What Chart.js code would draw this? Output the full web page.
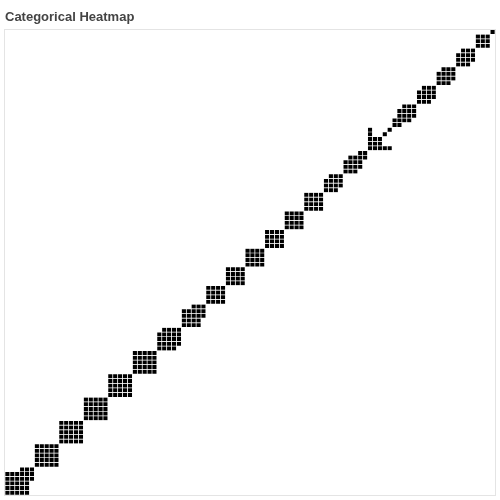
<!DOCTYPE html>
<html><head><meta charset="utf-8">
<script src="https://cdn.jsdelivr.net/npm/chart.js@4.4.0/dist/chart.umd.min.js"></script>
<style>html,body{margin:0;padding:0;background:#fff}#wrap{width:500px;height:500px}</style>
</head><body><div id="wrap"><canvas id="c"></canvas></div>
<script>
// 100 categories (no tick labels are shown in the reference)
const categories = Array.from({length: 100}, (_, i) => 'C' + i);

// For every row (bottom to top), the filled column spans [from, to]
const rowSpans = [
  [[0,4]], [[0,4]], [[0,4]], [[0,5]], [[0,5]], [[3,5]],
  [[6,10]], [[6,10]], [[6,10]], [[6,10]], [[6,10]],
  [[11,15]], [[11,15]], [[11,15]], [[11,15]], [[11,15]],
  [[16,20]], [[16,20]], [[16,20]], [[16,20]], [[16,20]],
  [[21,25]], [[21,25]], [[21,25]], [[21,25]], [[21,25]],
  [[26,30]], [[26,30]], [[26,30]], [[26,30]], [[26,30]],
  [[31,34]], [[31,35]], [[31,35]], [[31,35]], [[32,35]],
  [[36,39]], [[36,39]], [[36,40]], [[36,40]], [[38,40]],
  [[41,44]], [[41,44]], [[41,44]], [[41,44]],
  [[45,48]], [[45,48]], [[45,48]], [[45,48]],
  [[49,52]], [[49,52]], [[49,52]], [[49,52]],
  [[53,56]], [[53,56]], [[53,56]], [[53,56]],
  [[57,60]], [[57,60]], [[57,60]], [[57,60]],
  [[61,64]], [[61,64]], [[61,64]], [[61,64]],
  [[65,67]], [[65,68]], [[65,68]], [[66,68]],
  [[69,71]], [[69,72]], [[69,72]], [[70,73]], [[72,73]],
  [[74,78]], [[74,76]], [[74,76]], [[74,74],[77,77]], [[74,74],[78,78]],
  [[79,80]], [[79,82]], [[80,83]], [[80,83]], [[81,83]],
  [[84,86]], [[84,87]], [[84,87]], [[85,87]],
  [[88,90]], [[88,91]], [[88,91]], [[89,91]],
  [[92,94]], [[92,95]], [[92,95]], [[93,95]],
  [[96,98]], [[96,98]], [[96,98]],
  [[99,99]]
];

// build cells: each filled cell is a floating bar spanning its row
const cells = [];
rowSpans.forEach((spans, r) => {
  spans.forEach(([a, b]) => {
    for (let c = a; c <= b; c++) cells.push({x: categories[c], y: [r - 0.5, r + 0.5]});
  });
});

const frame = {
  id: 'frame',
  beforeDatasetsDraw(chart) {
    const {ctx, chartArea: a} = chart;
    ctx.save();
    ctx.strokeStyle = '#e4e4e4';
    ctx.lineWidth = 1;
    ctx.strokeRect(Math.round(a.left) - 0.5, Math.round(a.top) - 0.5,
                   Math.round(a.right - a.left) + 1, Math.round(a.bottom - a.top) + 1);
    ctx.restore();
  }
};

new Chart(document.getElementById('c'), {
  type: 'bar',
  data: {
    labels: categories,
    datasets: [{
      data: cells,
      backgroundColor: '#000',
      borderColor: 'rgba(255,255,255,0.8)',
      borderWidth: 0.35,
      borderSkipped: false,
      inflateAmount: 0,
      categoryPercentage: 1,
      barPercentage: 1
    }]
  },
  options: {
    responsive: true,
    maintainAspectRatio: false,
    animation: false,
    layout: {padding: {top: 6, left: 5, right: 5, bottom: 5}},
    plugins: {
      legend: {display: false},
      tooltip: {enabled: false},
      title: {
        display: true,
        text: 'Categorical Heatmap',
        align: 'start',
        color: '#444',
        font: {family: "'Liberation Sans', Arial, sans-serif", size: 13, weight: 'bold'},
        padding: {top: 4, bottom: 4}
      }
    },
    scales: {
      x: {type: 'category', display: false, offset: true, ticks: {autoSkip: false}},
      y: {type: 'linear', display: false, min: -0.5, max: 99.5}
    }
  },
  plugins: [frame]
});
</script>
</body></html>
